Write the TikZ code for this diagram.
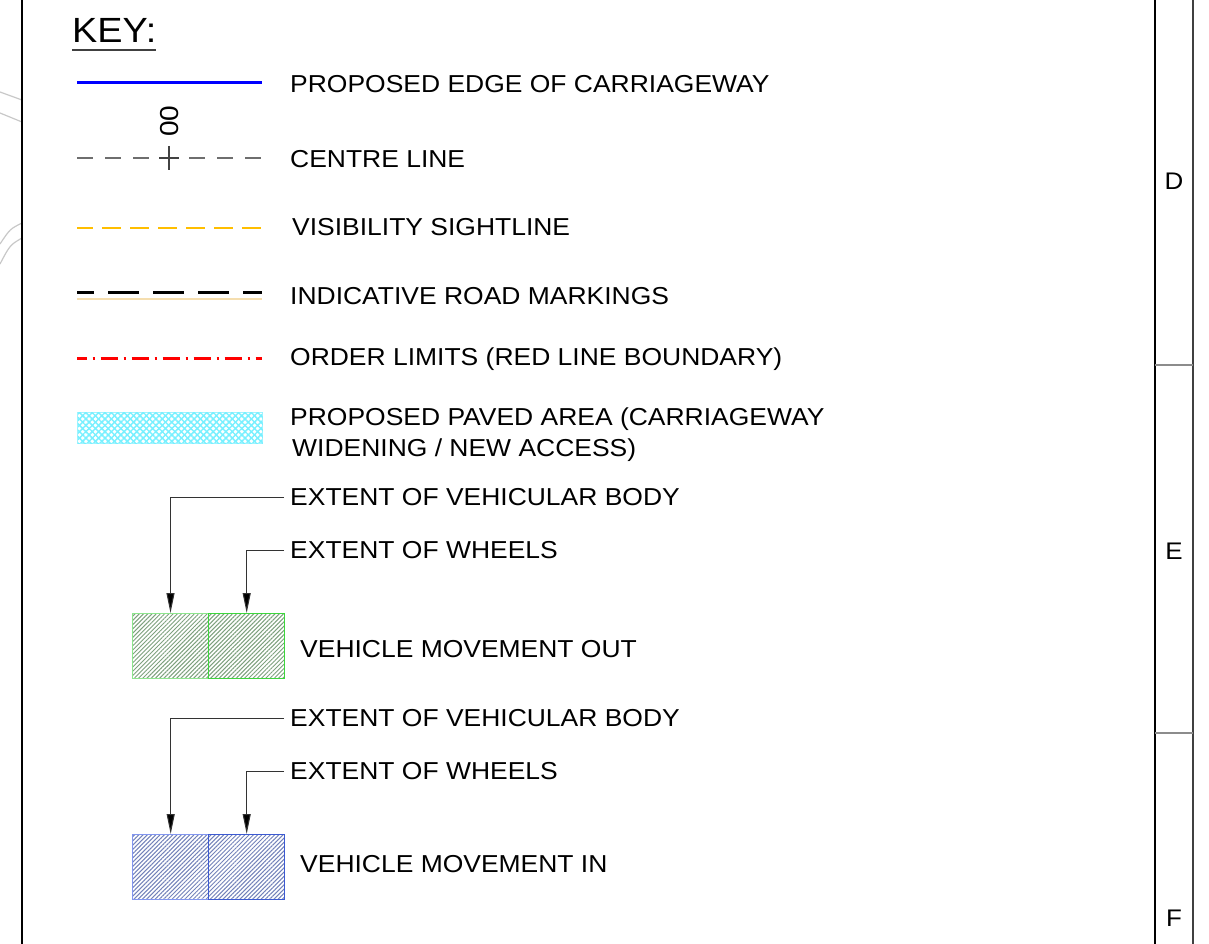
\documentclass[tikz,border=0pt]{standalone}
\usepackage{fontspec}
\setmainfont{Liberation Sans}[FakeStretch=1.08]
\usepackage{xcolor}
\usepackage{tikz}
\usetikzlibrary{positioning,arrows.meta,patterns,patterns.meta}

\definecolor{cline}{RGB}{110,110,110}
\definecolor{sightline}{RGB}{255,190,0}
\definecolor{kerbtan}{RGB}{245,222,175}
\definecolor{pavedcyan}{RGB}{120,240,255}
\definecolor{outbody}{RGB}{140,230,140}
\definecolor{outwheel}{RGB}{60,215,60}
\definecolor{outhatch}{RGB}{125,160,125}
\definecolor{inbody}{RGB}{130,150,240}
\definecolor{inwheel}{RGB}{60,90,210}
\definecolor{inhatch}{RGB}{115,130,185}
\definecolor{edgegrey}{RGB}{200,200,200}

\tikzset{
  keytext/.style={anchor=base west, inner sep=0pt, font=\fontsize{24.5}{32}\selectfont},
  sample/.style={line width=3pt},
  leader/.style={draw=black!80, line width=1pt, -{Triangle[length=20pt,width=8pt,fill=black]}},
  vbox/.style={minimum width=76pt, minimum height=65pt, anchor=north west, inner sep=0pt, line width=1.4pt},
  hatch/.style={pattern={Lines[angle=45, distance=3pt, line width=1pt]}},
  zone/.style={font=\fontsize{24}{26}\selectfont, inner sep=0pt}
}

\begin{document}
\begin{tikzpicture}[x=1pt, y=-1pt]
    \useasboundingbox (0,0) rectangle (1209,944);

    % Sheet border and zone strip
    \draw[edgegrey, line width=1.2pt] (0,92) -- (22,100);
    \draw[edgegrey, line width=1.2pt] (0,113) -- (22,122);
    \draw[edgegrey, line width=1.2pt] (22,223) .. controls (10,229) .. (0,244);
    \draw[edgegrey, line width=1.2pt] (22,238) .. controls (10,245) .. (0,264);
    \draw[line width=1.6pt] (22,0) -- (22,944);
    \draw[line width=1.6pt] (1155,0) -- (1155,944);
    \draw[black!75, line width=1.6pt] (1193,0) -- (1193,944);
    \draw[black!45, line width=1.6pt] (1155,365) -- (1193,365);
    \draw[black!45, line width=1.6pt] (1155,733) -- (1193,733);
    \node[zone] (zone-d) at (1174,181) {D};
    \node[zone] (zone-e) at (1174,551) {E};
    \node[zone] (zone-f) at (1174,918) {F};

    % Title
    \node[anchor=base west, inner sep=0pt, font=\fontsize{35}{40}\selectfont] (key-title) at (72,43) {KEY:};
    \draw[black!75, line width=1.2pt] ([yshift=-7pt]key-title.base west) -- ([yshift=-7pt]key-title.base east);

    % Line samples
    \draw[sample, blue] (77,83) -- (262,83);
    \draw[cline, line width=1.4pt, dash pattern=on 16pt off 12pt] (77,158) -- (262,158);
    \draw[cline!60!black, line width=1.4pt] (159,158) -- (179,158);
    \draw[cline!60!black, line width=1.4pt] (169,146) -- (169,170);
    \node[rotate=90, inner sep=0pt, font=\fontsize{26}{28}\selectfont] (chain-lbl) at (170,121) {00};
    \draw[sightline, line width=2.4pt, dash pattern=on 19pt off 9pt, dash phase=3pt] (77,228) -- (262,228);
    \draw[black, line width=3pt, dash pattern=on 31pt off 14pt, dash phase=14pt] (77,292) -- (262,292);
    \draw[kerbtan, line width=1.8pt] (77,299) -- (262,299);
    \draw[red, line width=3pt, dash pattern=on 17pt off 6pt on 2pt off 6pt, dash phase=7.5pt] (77,358) -- (262,358);

    % Paved area sample
    \node[draw=pavedcyan!70, line width=1pt, minimum width=185pt, minimum height=31pt, anchor=north west, inner sep=0pt,
          pattern={Lines[angle=45, distance=4.5pt, line width=1.5pt]}, pattern color=pavedcyan,
          postaction={pattern={Lines[angle=-45, distance=4.5pt, line width=1.5pt]}, pattern color=pavedcyan}]
          (paved-box) at (77,412) {};

    % Labels
    \node[keytext] (edge-lbl) at (290,92.5) {PROPOSED EDGE OF CARRIAGEWAY};
    \node[keytext] (centre-lbl) at (290,167.5) {CENTRE LINE};
    \node[keytext] (sight-lbl) at (292,235.5) {VISIBILITY SIGHTLINE};
    \node[keytext] (marking-lbl) at (290,304.5) {INDICATIVE ROAD MARKINGS};
    \node[keytext] (order-lbl) at (290,365.5) {ORDER LIMITS (RED LINE BOUNDARY)};
    \node[keytext] (paved-lbl) at (290,425) {PROPOSED PAVED AREA (CARRIAGEWAY};
    \node[keytext] (paved-lbl2) at (292,456.5) {WIDENING / NEW ACCESS)};

    % Vehicle movement out
    \node[vbox, draw=outbody, hatch, pattern color=outhatch] (out-body) at (132,613) {};
    \node[vbox, draw=outwheel, hatch, pattern color=outhatch] (out-wheels) at (208,613) {};
    \node[keytext] (out-body-lbl) at (290,505.5) {EXTENT OF VEHICULAR BODY};
    \node[keytext] (out-wheels-lbl) at (290,558.5) {EXTENT OF WHEELS};
    \node[keytext] (out-lbl) at (300,657.5) {VEHICLE MOVEMENT OUT};
    \draw[leader] ([xshift=-6pt]out-body-lbl.west) -| (out-body.north);
    \draw[leader] ([xshift=-6pt]out-wheels-lbl.west) -| (out-wheels.north);

    % Vehicle movement in
    \node[vbox, draw=inbody, hatch, pattern color=inhatch] (in-body) at (132,834) {};
    \node[vbox, draw=inwheel, hatch, pattern color=inhatch] (in-wheels) at (208,834) {};
    \node[keytext] (in-body-lbl) at (290,726.5) {EXTENT OF VEHICULAR BODY};
    \node[keytext] (in-wheels-lbl) at (290,779.5) {EXTENT OF WHEELS};
    \node[keytext] (in-lbl) at (300,872.5) {VEHICLE MOVEMENT IN};
    \draw[leader] ([xshift=-6pt]in-body-lbl.west) -| (in-body.north);
    \draw[leader] ([xshift=-6pt]in-wheels-lbl.west) -| (in-wheels.north);
\end{tikzpicture}
\end{document}
